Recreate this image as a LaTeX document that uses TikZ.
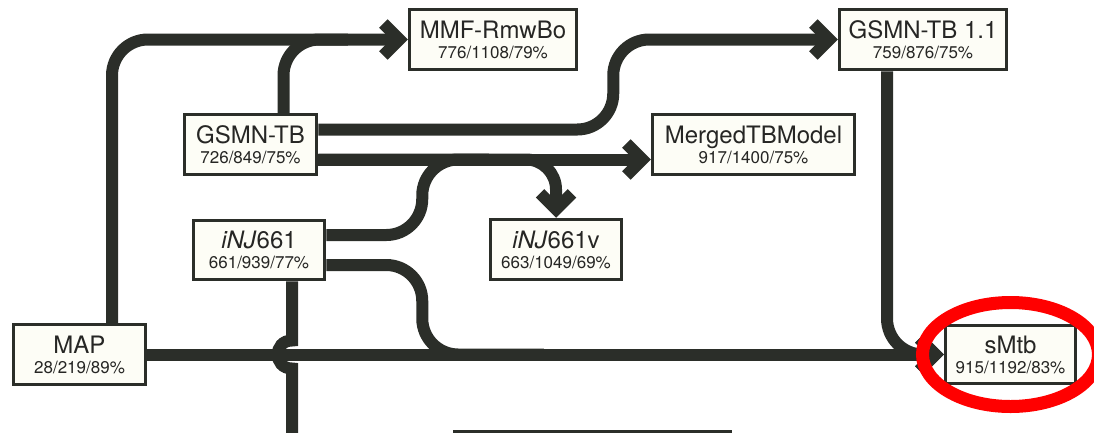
\documentclass[tikz,border=0pt]{standalone}
\usepackage{fontspec}
\setmainfont{TeX Gyre Heros}
\usepackage{tikz}
\usetikzlibrary{arrows.meta}
\definecolor{pipegrey}{RGB}{43,46,41}
\definecolor{boxwhite}{RGB}{253,253,246}
\definecolor{textgrey}{RGB}{38,38,36}
\newcommand{\stats}[1]{{\fontsize{17}{20}\selectfont #1}}
\pgfdeclarelayer{bg}
\pgfsetlayers{bg,main}
\tikzset{%
    model/.style={%
        draw=pipegrey, line width=3.5pt, fill=boxwhite, inner sep=0pt,
        align=center, text=textgrey, font=\fontsize{24}{20}\selectfont
    },
    pipe/.style={draw=pipegrey, line width=12pt, rounded corners=36pt},
    flow/.style={pipe, -{Straight Barb[sharp,length=16pt,width=32pt]}}
}
\begin{document}
\begin{tikzpicture}[x=1pt,y=-1pt]
    \useasboundingbox (0,0) rectangle (1094,432);
    \clip (0,0) rectangle (1094,432);
    \node[model, minimum width=167, minimum height=60] (mmf) at (493,39.5) {MMF-RmwBo\\\stats{776/1108/79\%}};
    \node[model, minimum width=167, minimum height=60] (gsmn11) at (923,39.5) {GSMN-TB 1.1\\\stats{759/876/75\%}};
    \node[model, minimum width=132, minimum height=60] (gsmn) at (250.5,144.5) {GSMN-TB\\\stats{726/849/75\%}};
    \node[model, minimum width=202, minimum height=60] (merged) at (753.5,144.5) {MergedTBModel\\\stats{917/1400/75\%}};
    \node[model, minimum width=131, minimum height=59] (inj) at (259,250) {\textit{iNJ}661\\\stats{661/939/77\%}};
    \node[model, minimum width=131, minimum height=60] (injv) at (556,249.5) {\textit{iNJ}661v\\\stats{663/1049/69\%}};
    \node[model, minimum width=132, minimum height=60] (map) at (79.5,354.5) {MAP\\\stats{28/219/89\%}};
    \node[model, minimum width=130, minimum height=58] (smtb) at (1010.5,354.5) {sMtb\\\stats{915/1192/83\%}};
    \node[model, minimum width=276, minimum height=80] (lower) at (592.5,471.5) {};
    \coordinate (hop) at ([xshift=33]inj.south |- map.east);
    \coordinate (hopend) at (292,450);
    \begin{pgfonlayer}{bg}
%    top row
    \draw[flow] ([xshift=32.5]map.north) |- (mmf.west);
    \draw[pipe] ([xshift=33]gsmn.north) |- ([xshift=-60]mmf.west);
    \draw[flow] ([yshift=15]gsmn.east) -- ++(295,0) |- (gsmn11.west);
%    middle row
    \draw[flow] ([yshift=-15]gsmn.east) -- ([yshift=-15]gsmn.east -| merged.west);
    \draw[flow, rounded corners=30pt] ([yshift=-15]gsmn.east) -| (injv.north);
    \draw[pipe] ([yshift=15]inj.east) -- ++(96,0) |- ([yshift=-15]gsmn.east -| injv.west);
    \draw[pipe] ([yshift=-15]inj.east) -- ++(96,0) |- ([xshift=-400]smtb.west);
%    into sMtb
    \draw[flow] (map.east) -- (smtb.west);
    \draw[flow] ([xshift=-36]gsmn11.south) |- (smtb.west);
    \draw[pipe, rounded corners=0pt] ([xshift=33]inj.south) -- ([yshift=14]hop)
        .. controls ([xshift=-19,yshift=14]hop) and ([xshift=-19,yshift=-14]hop) .. ([yshift=-14]hop)
        -- (hopend);
    \end{pgfonlayer}
    \draw[red, line width=13pt] (smtb.center) ellipse [x radius=88, y radius=52];
\end{tikzpicture}
\end{document}
